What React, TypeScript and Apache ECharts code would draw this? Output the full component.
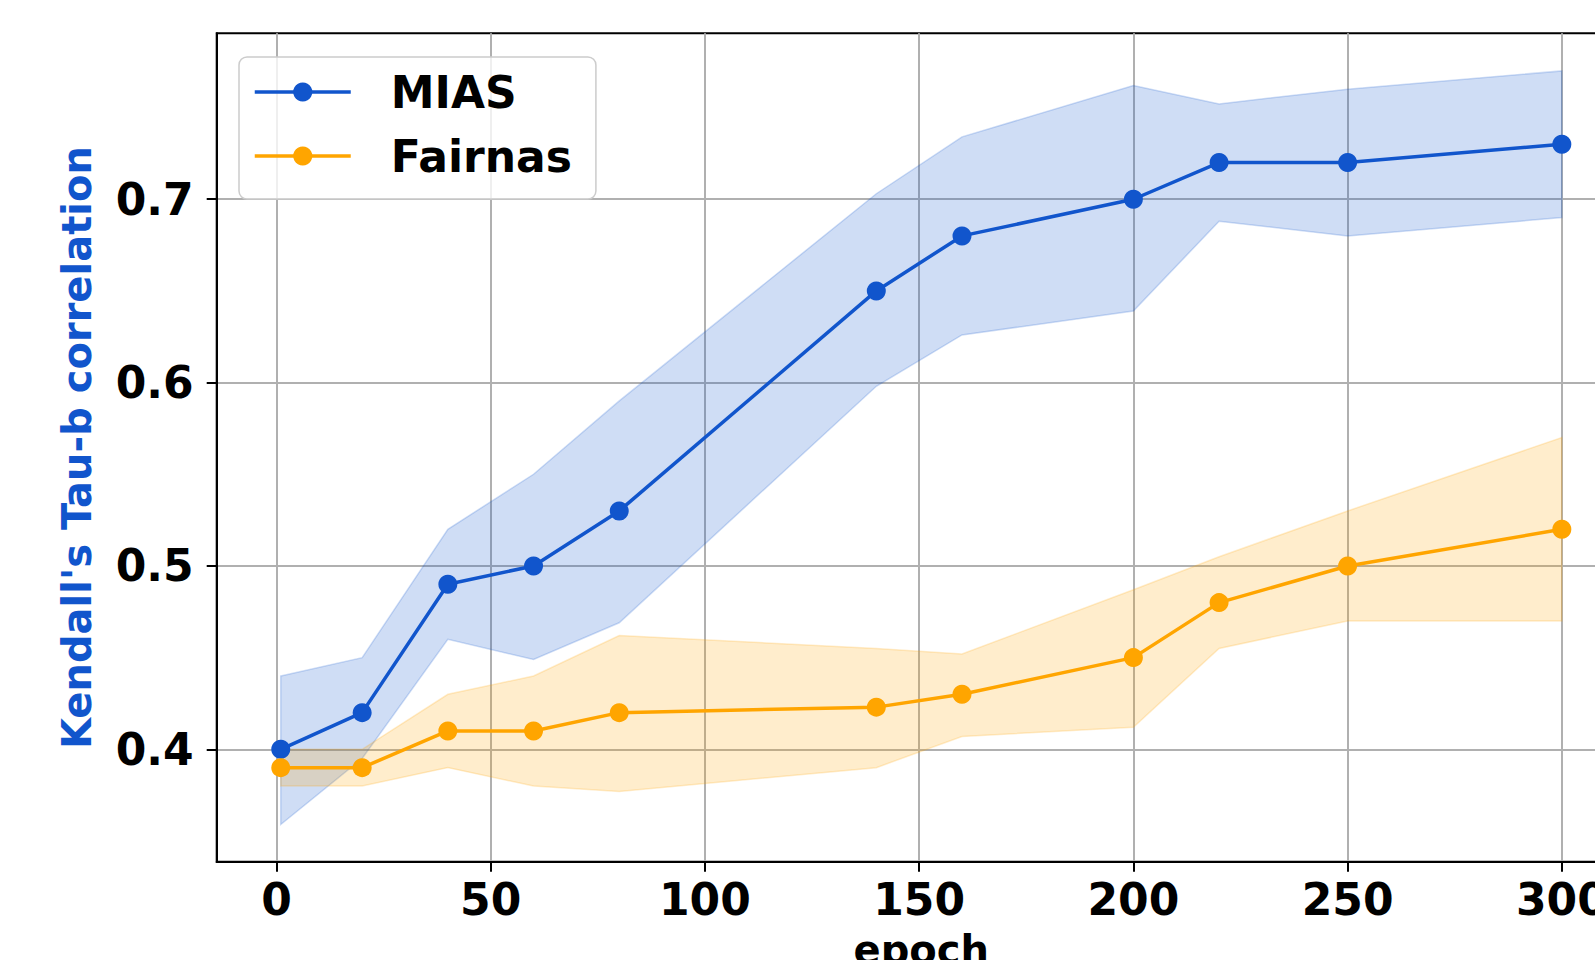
import React, { useEffect, useRef } from 'react';
import * as echarts from 'echarts';

// epochs at which both methods were evaluated
const epochs = [1, 20, 40, 60, 80, 140, 160, 200, 220, 250, 300];

// MIAS: mean Kendall tau-b and its band
const miasMean = [0.4, 0.42, 0.49, 0.5, 0.53, 0.65, 0.68, 0.7, 0.72, 0.72, 0.73];
const miasUpper = [0.44, 0.45, 0.52, 0.55, 0.59, 0.703, 0.734, 0.762, 0.752, 0.76, 0.77];
const miasLower = [0.359, 0.395, 0.46, 0.449, 0.469, 0.598, 0.626, 0.639, 0.688, 0.68, 0.69];

// Fairnas: mean Kendall tau-b and its band
const fairMean = [0.39, 0.39, 0.41, 0.41, 0.42, 0.423, 0.43, 0.45, 0.48, 0.5, 0.52];
const fairUpper = [0.4, 0.4, 0.43, 0.44, 0.462, 0.455, 0.452, 0.487, 0.505, 0.53, 0.57];
const fairLower = [0.38, 0.38, 0.39, 0.38, 0.377, 0.39, 0.407, 0.412, 0.455, 0.47, 0.47];

const xTicks = [0, 50, 100, 150, 200, 250, 300];
const yTicks = [0.4, 0.5, 0.6, 0.7];

const X_MIN = -13.95;
const X_MAX = 314.95;
const Y_MIN = 0.3387;
const Y_MAX = 0.7905;

const BLUE = '#1155cc';
const ORANGE = '#ffa500';
const FONT = 'DejaVu Sans';

function band(name: string, lower: number[], upper: number[], fill: string, edge: string) {
  return {
    type: 'custom',
    name,
    silent: true,
    z: 1,
    clip: false,
    data: [[epochs[0], lower[0]]],
    renderItem: (_params: any, api: any) => {
      const pts: number[][] = [];
      for (let i = 0; i < epochs.length; i++) pts.push(api.coord([epochs[i], upper[i]]));
      for (let i = epochs.length - 1; i >= 0; i--) pts.push(api.coord([epochs[i], lower[i]]));
      return {
        type: 'polygon',
        shape: { points: pts },
        style: { fill, stroke: edge, lineWidth: 1.5 },
      };
    },
  };
}

function lineSeries(name: string, values: number[], color: string, z: number) {
  return {
    type: 'line',
    name,
    z,
    clip: false,
    data: epochs.map((x, i) => [x, values[i]]),
    symbol: 'circle',
    symbolSize: 19,
    showSymbol: true,
    itemStyle: { color },
    lineStyle: { color, width: 3.5 },
  };
}

export default function App() {
  const ref = useRef<HTMLDivElement>(null);

  useEffect(() => {
    if (!ref.current) return;
    const chart = echarts.init(ref.current, null, { renderer: 'svg' });
    chart.setOption({
      animation: false,
      backgroundColor: '#ffffff',
      grid: {
        left: 216.7,
        top: 33.3,
        width: 1409.2,
        height: 828.4,
        containLabel: false,
        outerBoundsMode: 'none',
        show: true,
        borderColor: '#000000',
        borderWidth: 2,
        backgroundColor: 'transparent',
      },
      legend: {
        data: ['MIAS', 'Fairnas'],
        orient: 'vertical',
        left: 239,
        top: 57,
        itemWidth: 96,
        itemHeight: 24,
        itemGap: 20,
        padding: [13, 24, 21, 14],
        backgroundColor: 'rgba(255,255,255,0.8)',
        borderColor: '#cccccc',
        borderWidth: 1.5,
        borderRadius: 8,
        lineStyle: { width: 3.5 },
        textStyle: {
          fontSize: 44,
          fontWeight: 'bold',
          fontFamily: FONT,
          color: '#000000',
          lineHeight: 44,
          padding: [0, 0, 0, 35],
        },
      },
      xAxis: {
        type: 'value',
        min: X_MIN,
        max: X_MAX,
        name: 'epoch',
        nameLocation: 'middle',
        nameGap: 68,
        nameTextStyle: { fontSize: 40, fontWeight: 'bold', fontFamily: FONT, color: '#000000' },
        axisLine: { show: true, onZero: false, lineStyle: { color: '#000000', width: 2 } },
        axisTick: { show: true, customValues: xTicks, length: 10, lineStyle: { color: '#000000', width: 2 } },
        axisLabel: {
          customValues: xTicks,
          fontSize: 44,
          fontWeight: 'bold',
          fontFamily: FONT,
          color: '#000000',
          margin: 16,
        },
        splitLine: { show: true, lineStyle: { color: '#b0b0b0', width: 2 } },
      },
      yAxis: {
        type: 'value',
        min: Y_MIN,
        max: Y_MAX,
        name: "Kendall's Tau-b correlation",
        nameLocation: 'middle',
        nameGap: 120,
        nameTextStyle: { fontSize: 40, fontWeight: 'bold', fontFamily: FONT, color: BLUE },
        axisLine: { show: true, onZero: false, lineStyle: { color: '#000000', width: 2 } },
        axisTick: { show: true, customValues: yTicks, length: 10, lineStyle: { color: '#000000', width: 2 } },
        axisLabel: {
          customValues: yTicks,
          formatter: (v: number) => v.toFixed(1),
          fontSize: 44,
          fontWeight: 'bold',
          fontFamily: FONT,
          color: '#000000',
          margin: 23,
        },
        splitLine: { show: true, lineStyle: { color: '#b0b0b0', width: 2 } },
      },
      series: [
        band('MIAS band', miasLower, miasUpper, 'rgba(17,85,204,0.2)', 'rgba(17,85,204,0.2)'),
        band('Fairnas band', fairLower, fairUpper, 'rgba(255,165,0,0.2)', 'rgba(255,165,0,0.2)'),
        lineSeries('MIAS', miasMean, BLUE, 3),
        lineSeries('Fairnas', fairMean, ORANGE, 4),
      ],
    });
    return () => chart.dispose();
  }, []);

  return (
    <div
      ref={ref}
      style={{ position: 'fixed', left: 0, top: 0, width: 1595, height: 960, overflow: 'hidden' }}
    />
  );
}
